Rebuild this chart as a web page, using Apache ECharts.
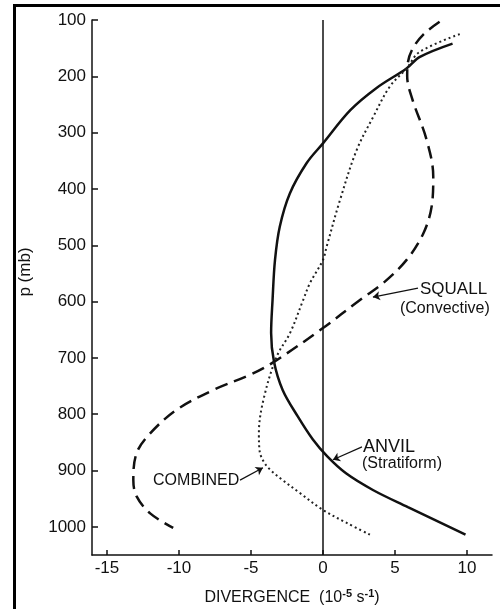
<!DOCTYPE html>
<html>
<head>
<meta charset="utf-8">
<script src="https://cdn.jsdelivr.net/npm/echarts@6/dist/echarts.min.js"></script>
<style>html,body{margin:0;padding:0;background:#fff}#c{width:500px;height:609px}</style>
</head>
<body>
<div id="c"></div>
<script>
// Tick labels
const yTicks = [100, 200, 300, 400, 500, 600, 700, 800, 900, 1000];
const xTicks = [-15, -10, -5, 0, 5, 10];

// ANVIL (Stratiform) — divergence (1e-5 s^-1) vs pressure (mb)
const anvilX = [9.0, 6.7, 5.8, 3.7, 1.9, 0, -1.13, -2.3, -3.0, -3.33, -3.5, -3.6, -3.4, -2.8, -1.75, -0.7, 0.3, 1.6, 3.5, 5.9, 9.9];
const anvilP = [142, 166, 186, 221, 260, 319, 354, 408, 467, 526, 597, 656, 707, 757, 804, 845, 875, 905, 935, 965, 1014];

// SQUALL (Convective)
const squallX = [8.1, 7.0, 6.25, 5.9, 5.85, 6.2, 7.2, 7.66, 7.55, 6.97, 5.81, 4.19, 2.57, 0, -3.4, -5.07, -7.62, -10.16, -12.0, -12.94, -13.17, -12.94, -12.0, -10.4];
const squallP = [103, 125, 150, 175, 200, 240, 313, 378, 431, 479, 526, 567, 597, 647, 707, 730, 757, 792, 834, 869, 917, 946, 976, 1002];

// COMBINED
const combX = [9.5, 6.7, 5.81, 4.65, 3.49, 2.34, 1.18, 0.26, 0, -0.9, -1.37, -2.29, -3.22, -4.14, -4.45, -4.4, -4.1, -3.6, -2.9, -1.6, 0, 1.65, 3.26];
const combP = [125, 157, 186, 218, 272, 331, 420, 502, 526, 567, 597, 656, 698, 775, 834, 865, 885, 900, 915, 940, 970, 993, 1014];

const FONT = 'Liberation Sans, Arial, sans-serif';
const INK = '#111';

function pairs(xs, ps) { return xs.map((x, i) => [x, ps[i]]); }

function textPoint(coord, text, size) {
  return {
    coord: coord,
    symbol: 'circle', symbolSize: 0,
    label: { show: true, position: 'right', distance: 0, formatter: text,
      color: INK, fontSize: size, fontFamily: FONT }
  };
}
function leader(from, to) {
  return [{ coord: from, symbol: 'none' }, { coord: to, symbol: 'arrow' }];
}

const chart = echarts.init(document.getElementById('c'), null, { renderer: 'canvas' });
chart.setOption({
  animation: false,
  backgroundColor: '#fff',
  grid: { left: 92, right: 8, top: 20, bottom: 54, containLabel: false, outerBoundsMode: 'none' },
  xAxis: {
    type: 'value', min: -16.04, max: 11.74,
    axisLine: { show: true, onZero: false, lineStyle: { color: INK, width: 1.5 } },
    axisTick: { show: true, inside: true, length: 5, customValues: xTicks, lineStyle: { color: INK, width: 1.5 } },
    axisLabel: { customValues: xTicks, color: INK, fontSize: 17, fontFamily: FONT, margin: 5,
      formatter: v => String(v) },
    splitLine: { show: false },
    name: '{a|DIVERGENCE  (10}{s|-5}{a| s}{s|-1}{a|)}',
    nameLocation: 'middle', nameGap: 33,
    nameTextStyle: {
      rich: {
        a: { fontSize: 16, fontFamily: FONT, color: INK, lineHeight: 20 },
        s: { fontSize: 11, fontFamily: FONT, color: INK, verticalAlign: 'top', fontWeight: 'bold', lineHeight: 12 }
      }
    }
  },
  yAxis: {
    type: 'value', inverse: true, min: 100, max: 1050,
    axisLine: { show: true, onZero: false, lineStyle: { color: INK, width: 1.5 } },
    axisTick: { show: true, inside: true, length: 6, customValues: yTicks, lineStyle: { color: INK, width: 1.5 } },
    axisLabel: { customValues: yTicks, color: INK, fontSize: 17, fontFamily: FONT, margin: 6,
      formatter: v => String(v) },
    splitLine: { show: false }
  },
  graphic: [
    { type: 'rect', shape: { x: 13, y: 4, width: 3, height: 605 }, style: { fill: '#000' } },
    { type: 'rect', shape: { x: 13, y: 4, width: 487, height: 3 }, style: { fill: '#000' } },
    { type: 'text', x: 25, y: 272, rotation: Math.PI / 2,
      style: { text: 'p (mb)', fill: INK, fontSize: 17, fontFamily: FONT, align: 'center', verticalAlign: 'middle' } }
  ],
  series: [
    {
      name: 'ANVIL', type: 'line', data: pairs(anvilX, anvilP), smooth: 0.35,
      showSymbol: false, lineStyle: { color: INK, width: 2.5, type: 'solid' },
      markLine: {
        silent: true, symbol: 'none', label: { show: false },
        lineStyle: { color: INK, width: 1.5, type: 'solid' },
        data: [{ xAxis: 0 }]
      },
      markPoint: { silent: true, data: [
        textPoint([2.78, 858], 'ANVIL', 18),
        textPoint([2.71, 887], '(Stratiform)', 16)
      ] },
      z: 3
    },
    {
      name: 'SQUALL', type: 'line', data: pairs(squallX, squallP), smooth: 0.35,
      showSymbol: false, lineStyle: { color: INK, width: 2.5, type: [13, 7] },
      markPoint: { silent: true, data: [
        textPoint([6.74, 579], 'SQUALL', 17),
        textPoint([5.35, 613], '(Convective)', 16)
      ] },
      markLine: {
        silent: true, symbolSize: 7, label: { show: false },
        lineStyle: { color: INK, width: 1.2, type: 'solid', curveness: 0.15 },
        data: [
          leader([6.6, 576], [3.47, 592]),
          leader([2.71, 858], [0.69, 881]),
          leader([-5.76, 917], [-4.17, 895])
        ]
      },
      z: 3
    },
    {
      name: 'COMBINED', type: 'line', data: pairs(combX, combP), smooth: 0.35,
      showSymbol: false, lineStyle: { color: '#222', width: 2, type: [2, 3] },
      markPoint: { silent: true, data: [
        textPoint([-11.8, 917], 'COMBINED', 16)
      ] },
      z: 3
    }
  ]
});
</script>
</body>
</html>
